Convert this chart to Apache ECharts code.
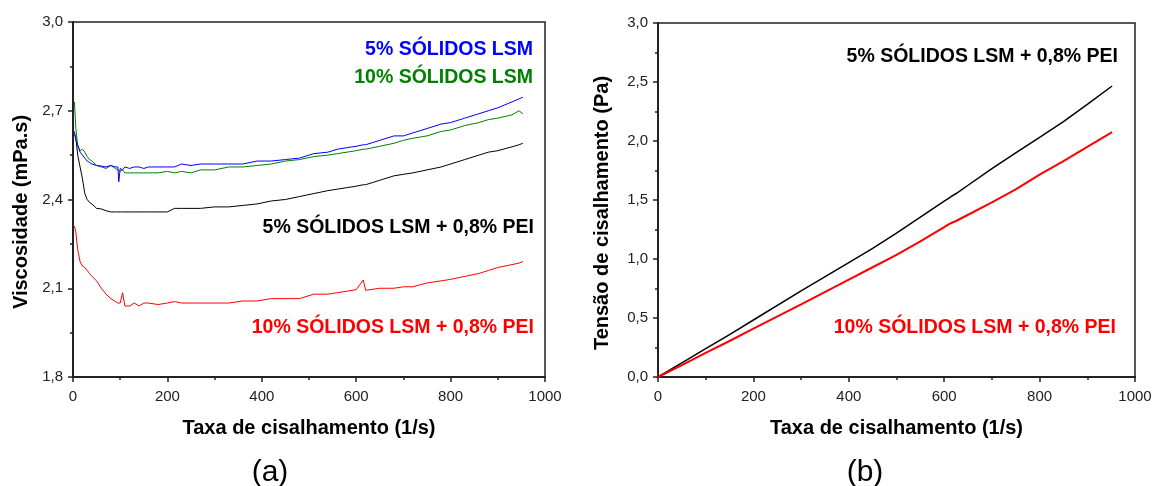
<!DOCTYPE html>
<html>
<head>
<meta charset="utf-8">
<script src="https://cdn.jsdelivr.net/npm/echarts@6/dist/echarts.min.js"></script>
<style>
  html, body { margin: 0; padding: 0; background: #fff; }
  #chart { width: 1155px; height: 486px; }
</style>
</head>
<body>
<div id="chart"></div>
<script>
// (a) viscosity vs shear rate
const rateA = [3, 6, 10, 15, 20, 25, 30, 35, 40, 50, 60, 70, 80, 90, 95, 97, 100, 105, 110, 120,
  130, 140, 150, 160, 180, 200, 215, 230, 250, 270, 300, 330, 360, 390, 420, 450, 480, 510, 540, 560,
  580, 600, 615, 620, 650, 680, 700, 720, 750, 780, 800, 830, 860, 880, 900, 930, 945, 953];
const viscBlue = [2.63, 2.60, 2.585, 2.56, 2.55, 2.54, 2.53, 2.525, 2.52, 2.515, 2.513, 2.51, 2.515, 2.51, 2.51, 2.46, 2.505, 2.50, 2.51, 2.505,
  2.51, 2.51, 2.505, 2.51, 2.51, 2.51, 2.51, 2.52, 2.515, 2.52, 2.52, 2.52, 2.52, 2.53, 2.53, 2.535, 2.54, 2.555, 2.56, 2.57,
  2.575, 2.58, 2.585, 2.585, 2.60, 2.615, 2.615, 2.625, 2.64, 2.655, 2.66, 2.675, 2.69, 2.70, 2.71, 2.73, 2.74, 2.746];
const viscGreen = [2.73, 2.64, 2.58, 2.565, 2.57, 2.56, 2.545, 2.535, 2.53, 2.515, 2.51, 2.505, 2.515, 2.505, 2.50, 2.50, 2.495, 2.50, 2.49, 2.49,
  2.49, 2.49, 2.49, 2.49, 2.49, 2.495, 2.49, 2.495, 2.49, 2.50, 2.50, 2.51, 2.51, 2.515, 2.52, 2.53, 2.535, 2.545, 2.55, 2.555,
  2.56, 2.565, 2.57, 2.57, 2.58, 2.59, 2.60, 2.607, 2.615, 2.63, 2.635, 2.65, 2.66, 2.67, 2.675, 2.686, 2.70, 2.69];
const viscBlack = [2.62, 2.61, 2.55, 2.51, 2.47, 2.42, 2.40, 2.39, 2.385, 2.37, 2.368, 2.362, 2.358, 2.358, 2.358, 2.358, 2.358, 2.358, 2.358, 2.358,
  2.358, 2.358, 2.358, 2.358, 2.358, 2.358, 2.37, 2.37, 2.37, 2.37, 2.375, 2.375, 2.38, 2.385, 2.395, 2.40, 2.41, 2.42, 2.43, 2.435,
  2.44, 2.445, 2.45, 2.45, 2.465, 2.48, 2.485, 2.49, 2.50, 2.51, 2.52, 2.535, 2.55, 2.56, 2.565, 2.578, 2.585, 2.59];
const viscRed = [2.31, 2.29, 2.23, 2.19, 2.175, 2.17, 2.16, 2.15, 2.14, 2.125, 2.10, 2.08, 2.065, 2.055, 2.05, 2.05, 2.05, 2.085, 2.04, 2.04,
  2.05, 2.04, 2.05, 2.05, 2.045, 2.05, 2.055, 2.05, 2.05, 2.05, 2.05, 2.05, 2.057, 2.057, 2.065, 2.065, 2.065, 2.08, 2.08, 2.085,
  2.09, 2.095, 2.128, 2.093, 2.10, 2.10, 2.105, 2.105, 2.118, 2.125, 2.13, 2.14, 2.15, 2.16, 2.17, 2.18, 2.185, 2.19];

// (b) shear stress vs shear rate
const rateB = [0, 50, 100, 150, 200, 300, 400, 450, 500, 550, 600, 610, 615, 625, 650, 700, 750, 800, 850, 900, 952];
const tensBlack = [0, 0.12, 0.24, 0.36, 0.483, 0.73, 0.97, 1.09, 1.22, 1.355, 1.49, 1.515, 1.53, 1.555, 1.625, 1.765, 1.90, 2.03, 2.165, 2.31, 2.466];
const tensRed = [0, 0.10, 0.205, 0.305, 0.41, 0.615, 0.825, 0.93, 1.035, 1.15, 1.27, 1.295, 1.305, 1.322, 1.375, 1.48, 1.59, 1.715, 1.83, 1.95, 2.076];

const FONT = '"Liberation Sans", Arial, sans-serif';
const pairs = (xs, ys) => xs.map((x, i) => [x, ys[i]]);
const comma = v => v.toFixed(1).replace('.', ',');

function xAx(gridIndex) {
  return {
    gridIndex, type: 'value', min: 0, max: 1000, interval: 200,
    name: 'Taxa de cisalhamento (1/s)', nameLocation: 'middle', nameGap: 41,
    nameTextStyle: { fontFamily: FONT, fontWeight: 'bold', fontSize: 20, color: '#000' },
    axisLine: { lineStyle: { color: '#222', width: 2 } },
    axisTick: { length: 5, lineStyle: { color: '#222', width: 1.5 } },
    minorTick: { show: true, splitNumber: 2, length: 3, lineStyle: { color: '#222', width: 1.5 } },
    axisLabel: { fontFamily: FONT, fontSize: 15, color: '#222', margin: 12, formatter: v => String(v) },
    splitLine: { show: false }
  };
}
function yAx(gridIndex, min, max, interval) {
  return {
    gridIndex, type: 'value', min, max, interval,
    axisLine: { lineStyle: { color: '#222', width: 2 } },
    axisTick: { length: 5, lineStyle: { color: '#222', width: 1.5 } },
    minorTick: { show: true, splitNumber: 2, length: 3, lineStyle: { color: '#222', width: 1.5 } },
    axisLabel: { fontFamily: FONT, fontSize: 15, color: '#222', margin: 10, formatter: comma },
    splitLine: { show: false }
  };
}
function line(name, xi, data, color, width) {
  return {
    name, type: 'line', xAxisIndex: xi, yAxisIndex: xi, data,
    showSymbol: false, symbol: 'none', color,
    lineStyle: { color, width }
  };
}
function note(text, right, y, color) {
  return {
    type: 'text', x: right, y,
    style: { text, fill: color, font: 'bold 19.5px ' + FONT, textAlign: 'right', textVerticalAlign: 'middle' }
  };
}
function yTitle(text, x, y) {
  return {
    type: 'text', x, y, rotation: Math.PI / 2,
    style: { text, fill: '#000', font: 'bold 20px ' + FONT, textAlign: 'center', textVerticalAlign: 'middle' }
  };
}

const chart = echarts.init(document.getElementById('chart'), null, { renderer: 'canvas' });
chart.setOption({
  animation: false,
  backgroundColor: '#fff',
  grid: [
    { left: 73, right: 610, top: 22, bottom: 109, show: true, borderColor: '#222', borderWidth: 1.5, backgroundColor: 'transparent' },
    { left: 658, right: 20, top: 23, bottom: 109, show: true, borderColor: '#222', borderWidth: 1.5, backgroundColor: 'transparent' }
  ],
  xAxis: [xAx(0), xAx(1)],
  yAxis: [yAx(0, 1.8, 3.0, 0.3), yAx(1, 0, 3.0, 0.5)],
  series: [
    line('10% SÓLIDOS LSM + 0,8% PEI', 0, pairs(rateA, viscRed), '#ff0000', 1),
    line('5% SÓLIDOS LSM + 0,8% PEI', 0, pairs(rateA, viscBlack), '#000000', 1),
    line('10% SÓLIDOS LSM', 0, pairs(rateA, viscGreen), '#008000', 1),
    line('5% SÓLIDOS LSM', 0, pairs(rateA, viscBlue), '#0000ff', 1),
    line('5% SÓLIDOS LSM + 0,8% PEI', 1, pairs(rateB, tensBlack), '#000000', 1.5),
    line('10% SÓLIDOS LSM + 0,8% PEI', 1, pairs(rateB, tensRed), '#ff0000', 2)
  ],
  graphic: [
    yTitle('Viscosidade (mPa.s)', 21, 212),
    yTitle('Tensão de cisalhamento (Pa)', 602, 213),
    note('5% SÓLIDOS LSM', 533, 50, '#0000ff'),
    note('10% SÓLIDOS LSM', 533, 78, '#008000'),
    note('5% SÓLIDOS LSM + 0,8% PEI', 534, 228, '#000000'),
    note('10% SÓLIDOS LSM + 0,8% PEI', 534, 328, '#ff0000'),
    note('5% SÓLIDOS LSM + 0,8% PEI', 1118, 57, '#000000'),
    note('10% SÓLIDOS LSM + 0,8% PEI', 1116, 328, '#ff0000'),
    { type: 'text', x: 270, y: 473, style: { text: '(a)', fill: '#000', font: '30px ' + FONT, textAlign: 'center', textVerticalAlign: 'middle' } },
    { type: 'text', x: 865, y: 473, style: { text: '(b)', fill: '#000', font: '30px ' + FONT, textAlign: 'center', textVerticalAlign: 'middle' } }
  ]
});
</script>
</body>
</html>
